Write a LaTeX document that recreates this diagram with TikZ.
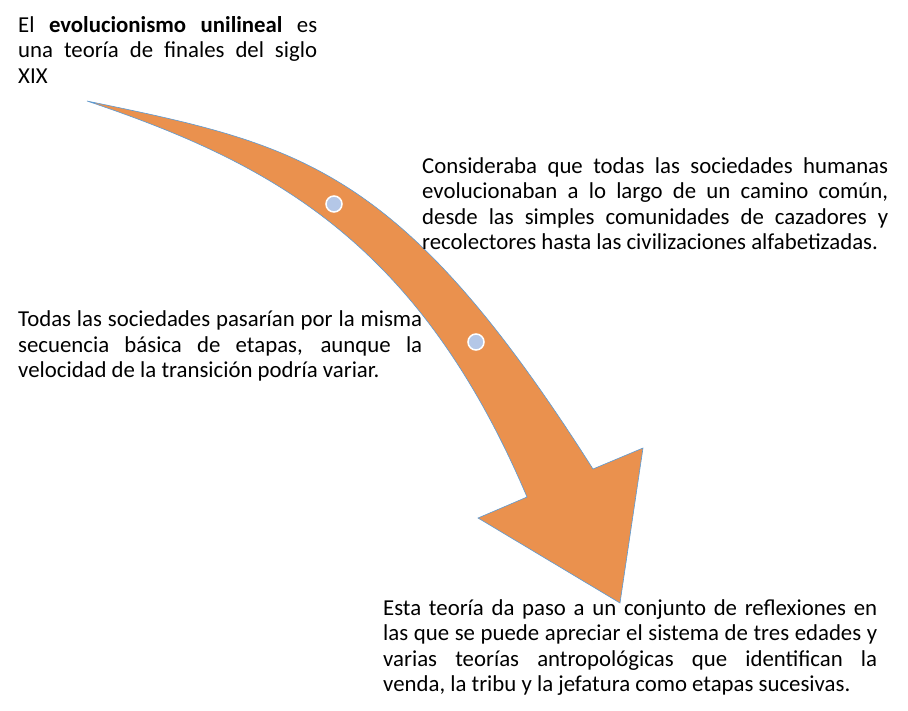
\documentclass[tikz,border=0pt]{standalone}
\usepackage{fontspec}
\setmainfont{Carlito}
\definecolor{arroworange}{HTML}{EA914E}
\definecolor{edgeblue}{HTML}{5B9BD5}
\definecolor{dotblue}{HTML}{B4C7E7}
\newcommand\jpar{\tolerance=10000 \hyphenpenalty=10000 }
\begin{document}
\begin{tikzpicture}[x=1pt,y=-1pt,
  txt/.style={anchor=base west, inner sep=0pt, align=justify,
    font=\fontsize{22.8}{25.5}\selectfont},
  dot/.style={circle, minimum size=16pt, inner sep=0pt, fill=dotblue, draw=white, line width=1.5pt},
  bigarrow/.style={fill=arroworange, draw=edgeblue, line width=0.6pt}]
\useasboundingbox (0,0) rectangle (908,710);
% arrow
\coordinate (tail) at (87,101);
\coordinate (neckR) at (593,469);
\coordinate (wingR) at (643,448);
\coordinate (tip) at (620,603);
\coordinate (wingL) at (478,518);
\coordinate (neckL) at (527,497);
\draw[bigarrow] (tail) .. controls (300,145) and (400,165) .. (neckR)
  -- (wingR) -- (tip) -- (wingL) -- (neckL)
  .. controls (417,238) and (267,162) .. (tail) -- cycle;
\node[dot] (c1) at (334,204) {};
\node[dot] (c2) at (476,342) {};
% texts
\node[txt, text width=299pt] (t1) at (18,32) {\jpar El \textbf{evolucionismo unilineal} es\linebreak una teoría de finales del siglo\linebreak XIX};
\node[txt, text width=466pt] (t2) at (422,173) {\jpar Consideraba que todas las sociedades humanas\linebreak evolucionaban a lo largo de un camino común,\linebreak desde las simples comunidades de cazadores y\linebreak recolectores hasta las civilizaciones alfabetizadas.};
\node[txt, text width=404pt] (t3) at (18,326.5) {\jpar Todas las sociedades pasarían por la misma\linebreak secuencia básica de etapas, aunque la\linebreak velocidad de la transición podría variar.};
\node[txt, text width=494pt] (t4) at (383,615) {\jpar Esta teoría da paso a un conjunto de reflexiones en\linebreak las que se puede apreciar el sistema de tres edades y\linebreak varias teorías antropológicas que identifican la\linebreak venda, la tribu y la jefatura como etapas sucesivas.};
\end{tikzpicture}
\end{document}
